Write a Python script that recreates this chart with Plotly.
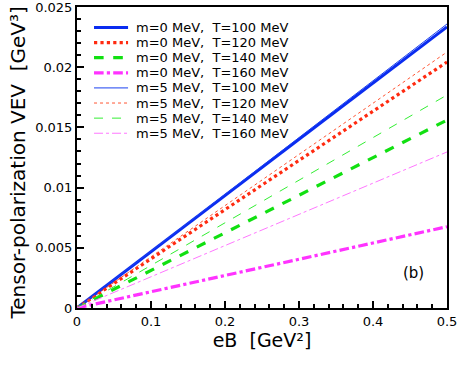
import plotly.graph_objects as go

# eB [GeV^2] and tensor-polarization VEV [GeV^3], straight lines from the origin
eb = [0.0, 0.5]
labels = [
    "m=0 MeV,  T=100 MeV", "m=0 MeV,  T=120 MeV", "m=0 MeV,  T=140 MeV", "m=0 MeV,  T=160 MeV",
    "m=5 MeV,  T=100 MeV", "m=5 MeV,  T=120 MeV", "m=5 MeV,  T=140 MeV", "m=5 MeV,  T=160 MeV",
]
vev_m0_t100 = [0.0, 0.02334]
vev_m0_t120 = [0.0, 0.02043]
vev_m0_t140 = [0.0, 0.01561]
vev_m0_t160 = [0.0, 0.00675]
vev_m5_t100 = [0.0, 0.02359]
vev_m5_t120 = [0.0, 0.02126]
vev_m5_t140 = [0.0, 0.01769]
vev_m5_t160 = [0.0, 0.01296]

series = [vev_m0_t100, vev_m0_t120, vev_m0_t140, vev_m0_t160,
          vev_m5_t100, vev_m5_t120, vev_m5_t140, vev_m5_t160]
colors = ["#0a2cf0", "#ff2a10", "#11e011", "#ff33ff",
          "#1a40f0", "#ff5533", "#33ee33", "#ff77ff"]
dashes = ["solid", "dot", "dash", "dashdot", "solid", "dot", "dash", "dashdot"]
widths = [3, 3.2, 3.2, 3.2, 1, 1, 1, 1]

fig = go.Figure()
for name, y, c, d, w in zip(labels, series, colors, dashes, widths):
    fig.add_trace(go.Scatter(x=eb, y=y, mode="lines", name=name, showlegend=False,
                             line=dict(color=c, dash=d, width=w)))

# hand-made legend (plotly's own legend rows are too tall for this spacing)
row0, row_step = 0.932, 0.0502
for i, (name, c, d, w) in enumerate(zip(labels, colors, dashes, widths)):
    yy = row0 - i * row_step
    fig.add_shape(type="line", xref="paper", yref="paper", x0=0.046, x1=0.138, y0=yy, y1=yy,
                  line=dict(color=c, dash=d, width=w))
    fig.add_annotation(xref="paper", yref="paper", x=0.155, y=yy, text=name, showarrow=False,
                       xanchor="left", yanchor="middle",
                       font=dict(family="DejaVu Sans", size=13, color="black"))

axis_common = dict(
    showline=True, linecolor="black", linewidth=2, mirror=True,
    ticks="inside", ticklen=7, tickwidth=1.5, tickcolor="black",
    showgrid=False, zeroline=False, automargin=False, ticklabeloverflow="allow",
    tickfont=dict(family="DejaVu Sans", size=13, color="black"),
)

fig.update_xaxes(range=[0, 0.5], dtick=0.1,
                 minor=dict(ticks="inside", dtick=0.02, ticklen=4, tickcolor="black"),
                 title=dict(text="eB  [GeV²]", font=dict(family="DejaVu Sans", size=19, color="black"),
                            standoff=1),
                 **axis_common)
fig.update_yaxes(range=[0, 0.025], dtick=0.005,
                 minor=dict(ticks="inside", dtick=0.001, ticklen=4, tickcolor="black"),
                 **axis_common)

# y title as an annotation so it can sit a bit below the plot's centre, like the original
fig.add_annotation(xref="paper", yref="paper", x=-0.162, y=0.48, textangle=-90,
                   text="Tensor-polarization VEV  [GeV³]", showarrow=False,
                   xanchor="center", yanchor="middle",
                   font=dict(family="DejaVu Sans", size=20, color="black"))

fig.add_annotation(x=0.455, y=0.0029, text="(b)", showarrow=False,
                   font=dict(family="DejaVu Sans", size=15, color="black"))

fig.update_layout(
    width=463, height=371,
    margin=dict(l=77, r=16, t=7, b=63),
    paper_bgcolor="white", plot_bgcolor="white",
    showlegend=False,
)

# the page body has a default 8px margin; drop it so the figure sits at the window corner
fig.write_html("out.html", config={"displayModeBar": False},
               post_script="document.body.style.margin='0';")
